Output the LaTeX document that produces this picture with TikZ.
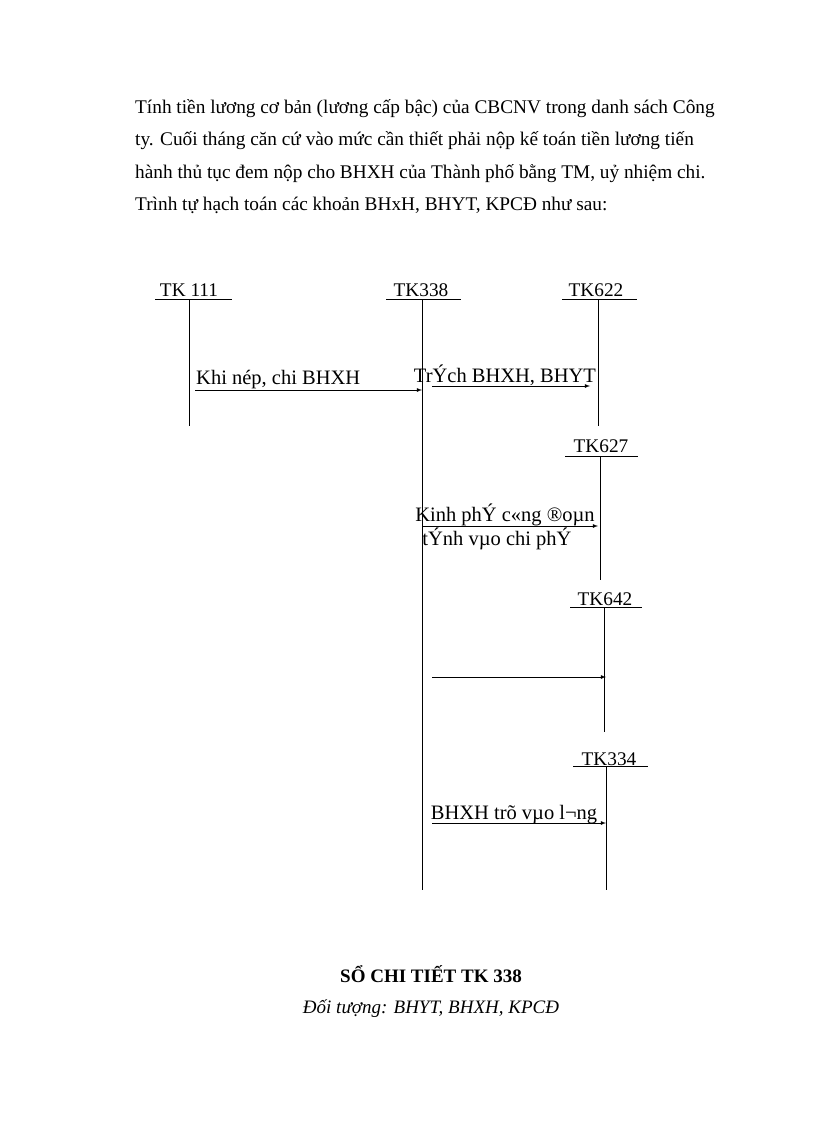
\documentclass[tikz,border=0pt]{standalone}
\usepackage{fontspec}
\setmainfont{Liberation Serif}
\begin{document}
\begin{tikzpicture}[x=1pt,y=-1pt,font=\fontsize{19.3}{21}\selectfont,
 ln/.style={line width=0.8pt},
 arr/.style={ln,-latex},
 lbl/.style={inner sep=0pt,anchor=base},
 dl/.style={lbl,font=\fontsize{20.5}{22}\selectfont}]
\useasboundingbox (0,0) rectangle (816,1123);
\node[lbl,anchor=base west] (p1) at (135,114) {Tính tiền lương cơ bản (lương cấp bậc) của CBCNV trong danh sách Công};
\node[lbl,anchor=base west] (p2) at (135,146) {ty. Cuối tháng căn cứ vào mức cần thiết phải nộp kế toán tiền lương tiến};
\node[lbl,anchor=base west] (p3) at (135,179) {hành thủ tục đem nộp cho BHXH của Thành phố bằng TM, uỷ nhiệm chi.};
\node[lbl,anchor=base west] (p4) at (135,211) {Trình tự hạch toán các khoản BHxH, BHYT, KPCĐ như sau:};
% headers
\node[lbl] (h1) at (189,296) {TK 111};
\node[lbl] (h2) at (421,296) {TK338};
\node[lbl] (h3) at (596,296) {TK622};
\node[lbl] (h4) at (601,452) {TK627};
\node[lbl] (h5) at (605,605) {TK642};
\node[lbl] (h6) at (609,765) {TK334};
\draw[ln] (155,299)--(232,299); \draw[ln] (189,299)--(189,426);
\draw[ln] (386,299)--(461,299); \draw[ln] (422,299)--(422,890);
\draw[ln] (562,299)--(637,299); \draw[ln] (598,299)--(598,426);
\draw[ln] (565,456)--(638,456); \draw[ln] (600,456)--(600,580);
\draw[ln] (570,607)--(642,607); \draw[ln] (604,607)--(604,732);
\draw[ln] (573,766)--(648,766); \draw[ln] (606,766)--(606,890);
\coordinate (a1) at (195,390); \coordinate (b1) at (422,390);
\draw[arr] (a1)--(b1);
\node[dl,anchor=base west] (t1) at (196,384) {Khi nép, chi BHXH};
\coordinate (a2) at (432,386); \coordinate (b2) at (590,386);
\draw[arr] (a2)--(b2);
\node[dl] (t2) at (505,382) {TrÝch BHXH, BHYT};
\coordinate (a3) at (422,526); \coordinate (b3) at (598,526);
\draw[arr] (a3)--(b3);
\node[dl] (t3) at (505,521) {Kinh phÝ c«ng ®oµn};
\node[dl] (t4) at (497,545) {tÝnh vµo chi phÝ};
\coordinate (a4) at (432,677); \coordinate (b4) at (606,677);
\draw[arr] (a4)--(b4);
\coordinate (a5) at (432,823); \coordinate (b5) at (606,823);
\draw[arr] (a5)--(b5);
\node[dl] (t5) at (514,819) {BHXH trõ vµo l¬ng};
\node[lbl,font=\fontsize{19}{21}\selectfont\bfseries] (s1) at (431,982) {SỔ CHI TIẾT TK 338};
\node[lbl,font=\fontsize{19}{21}\selectfont\itshape] (s2) at (431,1013) {Đối tượng: BHYT, BHXH, KPCĐ};
\end{tikzpicture}
\end{document}
